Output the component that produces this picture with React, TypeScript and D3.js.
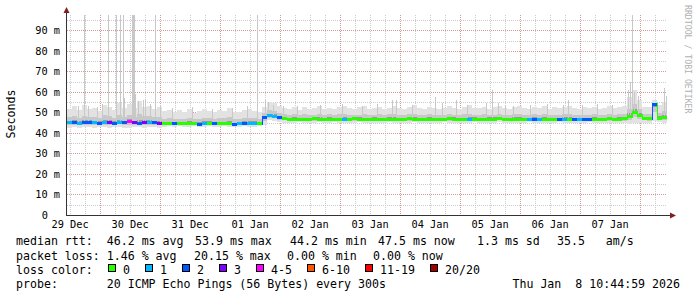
import React from 'react';
import * as d3 from 'd3';

// ---------- data ----------
const START = Date.UTC(2025, 11, 29, 10, 45, 0);
const END = Date.UTC(2026, 0, 8, 10, 45, 0);
const STEP_HOURS = 2;

// median rtt per 2h step (ms)
const medianMs = [
  44.9, 45.1, 44.8, 45.0, 45.2, 44.9, 44.7, 45.0, 45.3, 44.8, 45.1, 44.9, 45.4, 45.0, 44.8, 45.2, 44.9, 45.0, 44.7,
  44.5, 44.6, 44.8, 44.4, 44.6, 44.7, 44.5, 44.3, 44.6, 44.8, 44.5, 44.4, 44.7, 44.6, 44.2, 44.5, 44.7, 44.6, 44.8, 44.5,
  47.6,
  48.3, 48.1, 47.4, 47.0,
  46.6, 46.7, 46.8, 46.6, 46.7, 46.9, 46.7, 46.6, 46.8, 46.7,
  46.6, 46.8, 46.7, 46.9, 46.7, 46.6, 46.7, 46.8, 46.6, 46.7,
  46.8, 46.7, 46.6, 46.8, 46.9, 46.7, 46.6, 46.7, 46.8, 46.7,
  46.6, 46.7, 46.9, 46.8, 46.7, 46.6, 46.7, 46.8, 46.7, 46.6,
  46.8, 46.7, 46.9, 46.7, 46.6, 46.8, 46.7, 46.6, 46.7, 46.8,
  46.6, 46.7, 46.5, 46.6, 46.7, 46.8, 46.6, 46.7, 46.8, 46.6,
  46.7, 46.8, 46.6, 46.7, 46.9, 46.7, 46.8, 46.9,
  48.2, 49.8, 48.6, 47.2, 46.9, 53.9, 47.3, 47.5,
];

// lost pings (of 20) per 2h step
const lossCount = [
  1, 2, 1, 2, 2, 1, 2, 1, 3, 2, 1, 2, 5, 3, 2, 3, 1, 2, 3,
  0, 0, 2, 0, 0, 0, 0, 2, 1, 0, 2, 0, 0, 0, 2, 1, 2, 1, 1, 0,
  2,
  1, 1, 2, 0,
  0, 0, 0, 0, 0, 0, 0, 0, 0, 0,
  0, 1, 0, 0, 0, 0, 0, 0, 0, 0,
  0, 0, 0, 0, 0, 0, 0, 0, 0, 0,
  0, 0, 0, 0, 0, 0, 1, 0, 0, 0,
  0, 0, 0, 0, 0, 0, 0, 0, 1, 2,
  1, 0, 0, 0, 2, 1, 0, 2, 1, 2,
  2, 0, 0, 0, 0, 0, 0, 0,
  0, 0, 0, 0, 0, 2, 0, 0,
];

// smoke envelope per 2h step (ms)
const smokeHiMs = [
  51.8, 53.0, 51.2, 53.6, 51.5, 52.4, 50.9, 53.9, 52.6, 51.4, 54.8, 52.3, 54.2, 52.0, 55.5, 52.8, 53.3, 51.6, 52.5,
  50.6, 51.3, 50.0, 51.0, 50.4, 51.7, 49.9, 50.8, 51.9, 50.5, 50.1, 51.2, 50.7, 52.1, 50.3, 50.0, 51.0, 51.5, 50.8, 50.4,
  52.5,
  55.0, 54.6, 53.4, 52.3,
  51.8, 52.6, 51.4, 52.9, 51.7, 52.2, 53.1, 51.9, 52.4, 51.6,
  52.8, 53.4, 52.0, 51.8, 52.5, 53.0, 51.7, 52.3, 52.9, 51.9,
  52.4, 53.2, 52.1, 51.8, 52.7, 53.5, 52.2, 51.9, 52.6, 52.0,
  51.7, 52.4, 53.0, 52.2, 51.8, 52.9, 53.6, 52.3, 52.0, 52.7,
  51.9, 52.5, 53.3, 52.1, 51.8, 52.6, 53.0, 52.4, 51.9, 52.8,
  52.2, 53.1, 51.8, 52.5, 52.0, 52.9, 53.4, 52.3, 51.8, 52.6,
  52.1, 52.7, 51.9, 52.4, 53.0, 52.2, 52.6, 53.2,
  57.5, 61.0, 56.0, 52.8, 52.5, 56.2, 53.5, 55.0,
];

const smokeLoMs = [
  42.6, 42.9, 42.5, 43.1, 42.8, 42.4, 42.9, 42.7, 42.3, 42.8, 43.0, 42.6, 42.5, 42.9, 42.7, 42.4, 42.8, 43.0, 42.6,
  43.0, 43.2, 42.9, 43.3, 43.1, 42.8, 43.2, 43.0, 42.9, 43.3, 43.1, 42.9, 43.2, 43.0, 42.8, 43.1, 43.3, 43.0, 42.9, 43.2,
  44.0,
  46.2, 45.9, 45.4, 45.1,
  45.1, 44.9, 45.2, 45.0, 44.8, 45.1, 45.3, 44.9, 45.0, 45.2,
  44.8, 45.0, 45.1, 44.9, 45.2, 45.0, 44.7, 45.1, 45.0, 44.9,
  45.2, 45.0, 44.8, 45.1, 44.9, 45.3, 45.0, 44.8, 45.1, 45.0,
  44.9, 45.2, 45.0, 44.8, 45.1, 44.9, 45.0, 45.2, 44.8, 45.0,
  45.1, 44.9, 45.2, 45.0, 44.8, 45.1, 45.0, 44.9, 45.2, 45.0,
  44.8, 45.1, 44.9, 45.0, 45.2, 44.8, 45.0, 45.1, 44.9, 45.0,
  45.2, 44.9, 45.0, 45.1, 44.8, 45.0, 45.1, 44.9,
  44.6, 45.0, 44.8, 45.0, 45.1, 46.0, 45.2, 44.9,
];

// single outlier pings: [hours since start, ms]
const spikes: [number, number][] = [
  [6.8, 140], [16.4, 150], [19.6, 130], [21.2, 160], [22.4, 125], [26.0, 135], [26.4, 145], [26.8, 128], [35.2, 120],
  [76.0, 118], [226.0, 124],
  [4.4, 53.0], [8.4, 53.2], [12.0, 52.8], [14.0, 54.0], [22.8, 57.0], [27.2, 59.0], [28.4, 55.5], [30.4, 56.0],
  [31.2, 56.5], [33.2, 54.0], [37.2, 53.5],
  [42, 52.0], [50, 52.5], [58, 51.8], [66, 52.2], [72, 53.0],
  [79.2, 56.0], [80.4, 55.0], [82.4, 53.6], [86.4, 53.0], [92, 53.4], [101.2, 53.6], [110, 54.0], [118, 53.2],
  [124, 54.2], [130, 56.0], [131.6, 56.0], [138, 53.5], [147.2, 57.5], [150, 54.5], [155.6, 56.0], [160, 53.8],
  [167.6, 54.6], [170, 61.0], [172.4, 54.6], [175.2, 53.6], [178.4, 53.2], [185, 53.8], [192, 54.0], [198.4, 53.6],
  [200.4, 56.0], [206, 53.5], [212, 54.2], [218, 53.8], [224.4, 61.0], [225.2, 65.0], [226.8, 60.0], [228.4, 58.0],
  [236, 55.0], [238.8, 62.0], [239.6, 58.0],
];

const yMajorTicks = [0, 10, 20, 30, 40, 50, 60, 70, 80, 90];
const yMinorTicks = [5, 15, 25, 35, 45, 55, 65, 75, 85, 95];

const legendLabels = ['0', '1', '2', '3', '4-5', '6-10', '11-19', '20/20'];
const legendColors = ['#26ff00', '#00b8ff', '#0059ff', '#7e00ff', '#ff00ff', '#ff5500', '#ff0000', '#a00000'];

const rowMedian = ['median rtt:  46.2 ms avg', '53.9 ms max', '44.2 ms min', '47.5 ms now', '1.3 ms sd', '35.5   am/s'];
const rowLoss = ['packet loss: 1.46 % avg', '20.15 % max', '0.00 % min', '0.00 % now'];
const probeText = 'probe:       20 ICMP Echo Pings (56 Bytes) every 300s';
const dateText = 'Thu Jan  8 10:44:59 2026';
const yAxisTitle = 'Seconds';
const watermark = 'RRDTOOL / TOBI OETIKER';

// ---------- layout ----------
const W = 697;
const H = 297;
const X0 = 67;
const X1 = 667;
const Y0 = 215;
const Y1 = 15;
const MONO = '"DejaVu Sans Mono", monospace';
const rowMedianX = [16, 195, 290, 378, 477, 557];
const rowLossX = [16, 194, 287, 373];
const rowY = [245.2, 259.5, 273.8, 288.1];

function lossColor(n: number): string {
  if (n <= 0) return legendColors[0];
  if (n === 1) return legendColors[1];
  if (n === 2) return legendColors[2];
  if (n === 3) return legendColors[3];
  if (n <= 5) return legendColors[4];
  if (n <= 10) return legendColors[5];
  if (n <= 19) return legendColors[6];
  return legendColors[7];
}

export default function App() {
  const HOUR = 3600e3;
  const x = d3.scaleUtc().domain([new Date(START), new Date(END)]).range([X0, X1]);
  const y = d3.scaleLinear().domain([0, 97.56]).range([Y0, Y1]).clamp(true);

  const midnights = d3.utcDay.range(new Date(START + 1), new Date(END));
  const sixHours = d3.utcHour.every(6)!.range(new Date(START + 1), new Date(END))
    .filter((d) => d.getUTCHours() !== 0);
  const noons = d3.utcDay.range(d3.utcDay.floor(new Date(START)), new Date(END))
    .map((d) => new Date(d.getTime() + 12 * HOUR))
    .filter((d) => d.getTime() >= START && d.getTime() <= END);
  const fmt = d3.utcFormat('%d %b');

  const steps = medianMs.map((m, i) => {
    const t0 = START + i * STEP_HOURS * HOUR;
    const t1 = t0 + STEP_HOURS * HOUR;
    return { i, m, hi: smokeHiMs[i], lo: smokeLoMs[i], loss: lossCount[i], x0: x(new Date(t0)), x1: x(new Date(t1)) };
  });

  const px = (v: number) => Math.round(v) + 0.5;

  // legend layout
  let lx = 108;
  const legendPos = legendLabels.map((lab) => {
    const p = lx;
    lx += 15 + 7 * lab.length + 15;
    return p;
  });

  return (
    <svg width={W} height={H} style={{ position: 'absolute', left: 0, top: 0, background: '#fff' }}
      fontFamily={MONO}>
      <rect x={0} y={0} width={W} height={H} fill="#ffffff" />

      {/* grid */}
      <g shapeRendering="crispEdges">
        {yMinorTicks.map((v) => (
          <line key={'ym' + v} x1={X0} x2={X1} y1={px(y(v))} y2={px(y(v))} stroke="#cccccc" strokeDasharray="1,1" />
        ))}
        {sixHours.map((d) => (
          <line key={'xm' + d.getTime()} x1={px(x(d))} x2={px(x(d))} y1={Y1} y2={Y0} stroke="#cccccc" strokeDasharray="1,1" />
        ))}
        {yMajorTicks.filter((v) => v > 0).map((v) => (
          <line key={'yM' + v} x1={X0} x2={X1} y1={px(y(v))} y2={px(y(v))} stroke="#d49a9a" strokeDasharray="1,1" />
        ))}
        {midnights.map((d) => (
          <line key={'xM' + d.getTime()} x1={px(x(d))} x2={px(x(d))} y1={Y1} y2={Y0} stroke="#d49a9a" strokeDasharray="1,1" />
        ))}
      </g>

      {/* smoke */}
      <g shapeRendering="crispEdges">
        {steps.map((s) => (
          <rect key={'so' + s.i} x={s.x0} width={s.x1 - s.x0} y={y(s.hi)} height={y(s.lo) - y(s.hi)} fill="#e2e2e2" />
        ))}
        {steps.map((s) => {
          const top = s.m + (s.hi - s.m) * 0.4;
          const bot = s.m - (s.m - s.lo) * 0.45;
          return <rect key={'sm' + s.i} x={s.x0} width={s.x1 - s.x0} y={y(top)} height={y(bot) - y(top)} fill="#c8c8c8" />;
        })}
        {steps.map((s) => {
          const top = s.m + (s.hi - s.m) * 0.15;
          const bot = s.m - (s.m - s.lo) * 0.15;
          return <rect key={'si' + s.i} x={s.x0} width={s.x1 - s.x0} y={y(top)} height={y(bot) - y(top)} fill="#9a9a9a" />;
        })}
        {spikes.map(([h, v], k) => {
          const t = START + h * HOUR;
          const idx = Math.min(steps.length - 1, Math.floor(h / STEP_HOURS));
          return (
            <line key={'sp' + k} x1={px(x(new Date(t)))} x2={px(x(new Date(t)))} y1={y(steps[idx].m)} y2={y(v)}
              stroke="#c8c8c8" />
          );
        })}
      </g>

      {/* median */}
      <g shapeRendering="crispEdges">
        {steps.map((s) => (
          <rect key={'md' + s.i} x={s.x0} width={s.x1 - s.x0} y={y(s.m) - 1.5} height={3} fill={lossColor(s.loss)} />
        ))}
        {steps.slice(1).map((s) => {
          const prev = steps[s.i - 1];
          const ya = y(prev.m);
          const yb = y(s.m);
          if (Math.abs(ya - yb) <= 2) return null;
          return (
            <rect key={'mc' + s.i} x={s.x0} width={1} y={Math.min(ya, yb) - 1.5} height={Math.abs(ya - yb) + 3}
              fill={lossColor(s.loss)} />
          );
        })}
      </g>

      {/* axes */}
      <g shapeRendering="crispEdges">
        <line x1={66.5} x2={66.5} y1={Y0 + 1} y2={12} stroke="#333" />
        <line x1={66} x2={670} y1={215.5} y2={215.5} stroke="#333" />
      </g>
      <polygon points="63.5,13 69.5,13 66.5,7" fill="#7f1f1f" />
      <polygon points="670,212.5 670,218.5 676,215.5" fill="#7f1f1f" />

      {/* y tick labels */}
      {yMajorTicks.map((v) => (
        <text key={'yl' + v} x={v === 0 ? 48 : 60} y={y(v) + 3.7} fontSize={10.3} textAnchor="end" fill="#000">
          {v === 0 ? '0' : `${v} m`}
        </text>
      ))}

      {/* x tick labels */}
      {noons.map((d) => (
        <text key={'xl' + d.getTime()} x={x(d)} y={228} fontSize={10.3} textAnchor="middle" fill="#000">
          {fmt(d)}
        </text>
      ))}

      {/* axis title */}
      <text transform="translate(15,114) rotate(-90)" fontSize={11.6} textAnchor="middle" fill="#000">
        {yAxisTitle}
      </text>

      {/* watermark */}
      <text transform="translate(685,5) rotate(90)" fontSize={8.2} fill="#b0b0b0">
        {watermark}
      </text>

      {/* legend rows */}
      <g fontSize={11.6} fill="#000" style={{ whiteSpace: 'pre' }}>
        {rowMedian.map((t, k) => (
          <text key={'r1' + k} x={rowMedianX[k]} y={rowY[0]} xmlSpace="preserve">{t}</text>
        ))}
        {rowLoss.map((t, k) => (
          <text key={'r2' + k} x={rowLossX[k]} y={rowY[1]} xmlSpace="preserve">{t}</text>
        ))}
        <text x={16} y={rowY[2]} xmlSpace="preserve">loss color:</text>
        {legendLabels.map((lab, k) => (
          <g key={'lg' + k}>
            <rect x={legendPos[k] + 0.5} y={264.5} width={7} height={7} fill={legendColors[k]} stroke="#000"
              shapeRendering="crispEdges" />
            <text x={legendPos[k] + 15} y={rowY[2]} xmlSpace="preserve">{lab}</text>
          </g>
        ))}
        <text x={16} y={rowY[3]} xmlSpace="preserve">{probeText}</text>
        <text x={680} y={rowY[3]} textAnchor="end" xmlSpace="preserve">{dateText}</text>
      </g>
    </svg>
  );
}
